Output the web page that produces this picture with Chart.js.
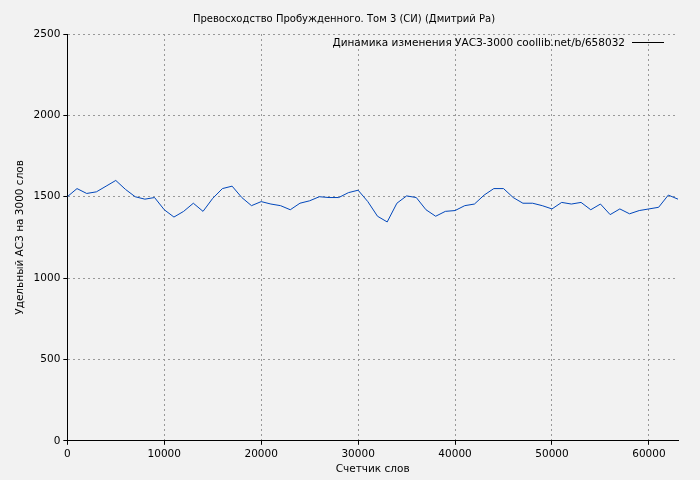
<!DOCTYPE html><html><head><script src="https://cdn.jsdelivr.net/npm/chart.js"></script>
<style>body{margin:0;background:#f2f2f2}</style></head><body><div style="width:700px;height:480px"><canvas id="c"></canvas></div>
<script>
const xs=[];for(let i=0;i<=63;i++)xs.push(i*1000);
const vals=[1500,1550,1520,1530,1565,1600,1545,1500,1485,1495,1420,1375,1410,1460,1410,1490,1550,1565,1495,1445,1470,1455,1445,1420,1460,1475,1500,1495,1495,1525,1540,1470,1380,1345,1460,1505,1495,1420,1380,1410,1415,1445,1455,1510,1550,1550,1495,1460,1460,1445,1425,1465,1455,1465,1420,1455,1390,1425,1395,1415,1425,1435,1510,1485];
const xTicks=[0,10000,20000,30000,40000,50000,60000];
const title='Превосходство Пробужденного. Том 3 (СИ) (Дмитрий Ра)';
const label='Динамика изменения УАСЗ-3000 coollib.net/b/658032';
const F='DejaVu Sans';
const legendPlugin={id:'lg',afterDraw(ch){const c=ch.ctx,a=ch.chartArea;c.save();c.font='10.5px "'+F+'"';c.fillStyle='#000';c.textAlign='right';c.textBaseline='middle';c.fillText(label,a.right-53,43);c.strokeStyle='#000';c.lineWidth=1;c.beginPath();c.moveTo(a.right-46,42.5);c.lineTo(a.right-14,42.5);c.stroke();c.restore();}};
new Chart(document.getElementById('c'),{type:'line',data:{datasets:[{data:xs.map((x,i)=>({x,y:vals[i]})),borderColor:'#0047bb',borderWidth:1,pointRadius:0,tension:0}]},
options:{responsive:true,maintainAspectRatio:false,animation:false,layout:{padding:{top:11,right:22,left:10,bottom:0}},
plugins:{legend:{display:false},tooltip:{enabled:false},title:{display:true,text:title,color:'#000',font:{family:F,size:10,weight:'normal'},padding:{top:2,bottom:9}}},
scales:{x:{type:'linear',min:0,max:63000,afterBuildTicks:s=>{s.ticks=xTicks.map(v=>({value:v}));},ticks:{color:'#000',font:{family:F,size:10.5},maxRotation:0,callback:v=>String(v)},grid:{color:'#999',tickColor:'#000',tickLength:4},border:{color:'#000',dash:[2,3]},title:{display:true,text:'Счетчик слов',color:'#000',font:{family:F,size:10.5},padding:{top:0,bottom:4}}},
y:{min:0,max:2500,ticks:{stepSize:500,color:'#000',font:{family:F,size:10.5},callback:v=>String(v)},grid:{color:'#999',tickColor:'#000',tickLength:4},border:{color:'#000',dash:[2,3]},title:{display:true,text:'Удельный АСЗ на 3000 слов',color:'#000',font:{family:F,size:10.5}}}}},
plugins:[legendPlugin,{id:'bg',beforeDraw(ch){const c=ch.ctx;c.save();c.fillStyle='#f2f2f2';c.fillRect(0,0,ch.width,ch.height);c.restore();}}]});
</script></body></html>
